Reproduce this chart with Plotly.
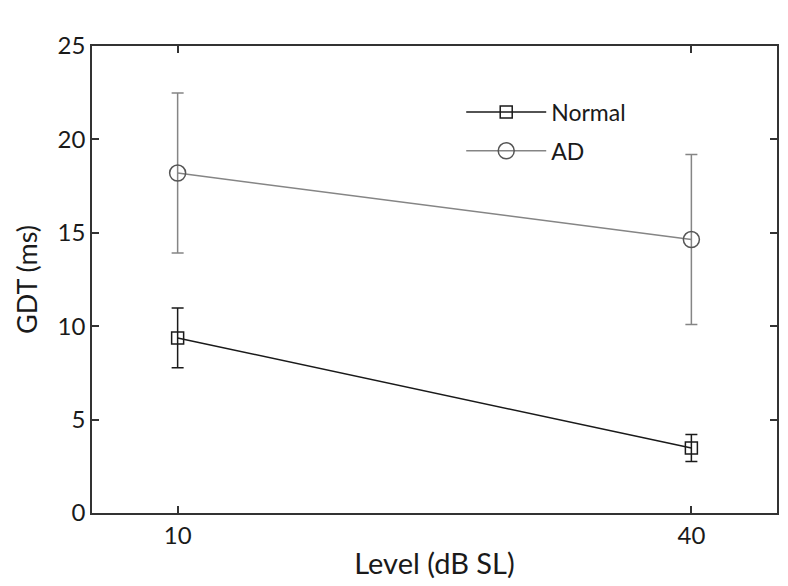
import plotly.graph_objects as go

levels = [10, 40]
normal_mean = [9.37, 3.48]
normal_err = [1.6, 0.72]
ad_mean = [18.2, 14.64]
ad_err = [4.28, 4.55]
x_ticks = [10, 40]
y_ticks = [0, 5, 10, 15, 20, 25]

FONT = "Lato"
TXT = "#1a1a1a"

fig = go.Figure()
fig.add_trace(go.Scatter(
    x=levels, y=normal_mean, name="Normal", mode="lines+markers",
    legendgroup="n",
    line=dict(color="#1a1a1a", width=1.5),
    marker=dict(symbol="square-open", size=12, color="#1a1a1a", line=dict(width=1.5)),
    error_y=dict(type="data", array=normal_err, color="#1a1a1a", thickness=1.5, width=6),
))
fig.add_trace(go.Scatter(
    x=levels, y=ad_mean, name="AD", mode="lines+markers",
    legendgroup="a",
    line=dict(color="#858585", width=1.5),
    marker=dict(symbol="circle-open", size=16, color="#555555", line=dict(width=1.5)),
    error_y=dict(type="data", array=ad_err, color="#858585", thickness=1.5, width=6),
))

axis_common = dict(
    showline=True, linecolor="#333333", linewidth=1.5, mirror="ticks",
    ticks="inside", ticklen=7, tickwidth=1.5, tickcolor="#333333",
    showgrid=False, zeroline=False,
    tickfont=dict(family=FONT, size=24, color=TXT),
)
fig.update_xaxes(range=[5, 45], tickvals=x_ticks, ticktext=[str(v) for v in x_ticks],
                 title=dict(text="Level (dB SL)", font=dict(family=FONT, size=29, color=TXT), standoff=6),
                 **axis_common)
fig.update_yaxes(range=[0, 25], tickvals=y_ticks, ticktext=[str(v) for v in y_ticks],
                 title=dict(text="GDT (ms)", font=dict(family=FONT, size=27, color=TXT), standoff=12),
                 **axis_common)

fig.update_layout(
    width=788, height=586,
    margin=dict(l=92, r=9, t=46, b=73),
    paper_bgcolor="white", plot_bgcolor="white",
    showlegend=True,
    legend=dict(x=0.539, y=0.817, xanchor="left", yanchor="middle",
                bgcolor="rgba(0,0,0,0)", itemwidth=80,
                traceorder="grouped", tracegroupgap=6,
                font=dict(family=FONT, size=23, color=TXT)),
)

fig.write_html("out.html", config={"displayModeBar": False},
               post_script="document.body.style.margin='0px';")
